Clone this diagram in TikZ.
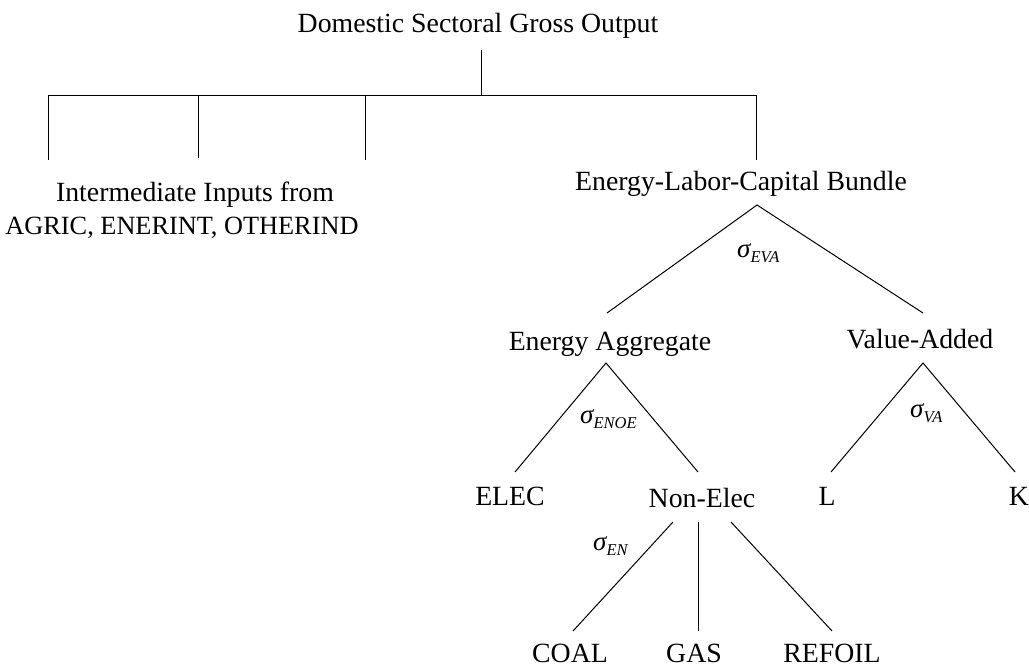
\documentclass[tikz,border=0pt]{standalone}
\usepackage{fontspec}
\setmainfont{Liberation Serif}
\begin{document}
\begin{tikzpicture}[x=1pt,y=-1pt,
  lbl/.style={anchor=base,inner sep=0pt,font=\fontsize{27.8}{32}\selectfont},
  sig/.style={anchor=base west,inner sep=0pt,font=\fontsize{27}{30}\selectfont\itshape},
  ln/.style={line width=1pt,black}]
\useasboundingbox (0,0) rectangle (1029,666);
\newcommand{\sigsub}[1]{σ\raisebox{-0.22em}{\fontsize{16.5}{16.5}\selectfont\itshape #1}}
% text nodes
\node[lbl] (dsgo) at (478,33) {Domestic Sectoral Gross Output};
\node[lbl] (int1) at (195,202) {Intermediate Inputs from};
\node[lbl,font=\fontsize{26.3}{30}\selectfont] (int2) at (182,235) {AGRIC, ENERINT, OTHERIND};
\node[lbl] (elk) at (741,190) {Energy-Labor-Capital Bundle};
\node[lbl] (ea) at (610,350) {Energy Aggregate};
\node[lbl] (va) at (920,348) {Value-Added};
\node[lbl] (elec) at (510,505) {ELEC};
\node[lbl] (nonelec) at (702,507) {Non-Elec};
\node[lbl] (L) at (827,505) {L};
\node[lbl] (K) at (1019,505) {K};
\node[lbl] (coal) at (570,662) {COAL};
\node[lbl] (gas) at (694,662) {GAS};
\node[lbl] (refoil) at (832,662) {REFOIL};
% sigma labels
\node[sig] (seva) at (737,257) {\sigsub{EVA}};
\node[sig] (senoe) at (580,423) {\sigsub{ENOE}};
\node[sig] (sva) at (910,417) {\sigsub{VA}};
\node[sig] (sen) at (593,550) {\sigsub{EN}};
% connector coordinates
\coordinate (t0) at (481,50);
\coordinate (t1) at (481,96);
\coordinate (hL) at (48,96);
\coordinate (hR) at (756,96);
\coordinate (b1) at (48,160);
\coordinate (c2) at (198,96);
\coordinate (b2) at (198,158);
\coordinate (c3) at (365,96);
\coordinate (b3) at (365,160);
\coordinate (b4) at (756,160);
\coordinate (ap1) at (757,205);
\coordinate (e1l) at (607,313);
\coordinate (e1r) at (923,313);
\coordinate (ap2) at (606,363);
\coordinate (e2l) at (515,472);
\coordinate (e2r) at (698,472);
\coordinate (ap3) at (923,363);
\coordinate (e3l) at (831,472);
\coordinate (e3r) at (1015,472);
\coordinate (n1) at (673,522);
\coordinate (n2) at (698,522);
\coordinate (n3) at (731,522);
\coordinate (m1) at (573,631);
\coordinate (m2) at (698,631);
\coordinate (m3) at (832,631);
% connectors
\draw[ln] (t0) -- (t1);
\draw[ln] (b1) -- (hL) -- (hR) -- (b4);
\draw[ln] (c2) -- (b2);
\draw[ln] (c3) -- (b3);
\draw[ln] (e1l) -- (ap1) -- (e1r);
\draw[ln] (e2l) -- (ap2) -- (e2r);
\draw[ln] (e3l) -- (ap3) -- (e3r);
\draw[ln] (n1) -- (m1);
\draw[ln] (n2) -- (m2);
\draw[ln] (n3) -- (m3);
\end{tikzpicture}
\end{document}
